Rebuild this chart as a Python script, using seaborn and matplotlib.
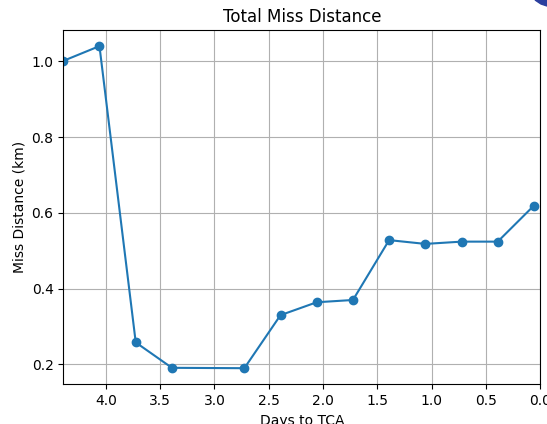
import matplotlib
matplotlib.use("Agg")
import matplotlib.pyplot as plt
import seaborn as sns
import pandas as pd
from matplotlib.patches import Polygon

days_to_tca = [4.392, 4.059, 3.725, 3.392, 2.725, 2.392, 2.059, 1.725, 1.392, 1.059, 0.725, 0.392, 0.059]
miss_distance_km = [1.001, 1.040, 0.258, 0.191, 0.190, 0.330, 0.364, 0.370, 0.528, 0.518, 0.524, 0.524, 0.619]

df = pd.DataFrame({"days": days_to_tca, "miss": miss_distance_km})

fig = plt.figure(figsize=(5.47, 4.24), dpi=100)
ax = fig.add_axes([63.3 / 547, 1 - 384.3 / 424, (540.3 - 63.3) / 547, (384.3 - 30) / 424])

sns.lineplot(data=df, x="days", y="miss", ax=ax, marker="o", color="#1f77b4",
             markersize=6, markeredgecolor="#1f77b4", markeredgewidth=1, linewidth=1.5,
             sort=False, estimator=None)

ax.set_xlim(max(days_to_tca), 0)
ax.grid(True, color="#b0b0b0", linewidth=0.8)
ax.set_axisbelow(True)
ax.set_title("Total Miss Distance", fontsize=12)
ax.set_xlabel("Days to TCA", fontsize=10)
ax.set_ylabel("Miss Distance (km)", fontsize=10)
ax.tick_params(labelsize=10)

# small blue screenshot artifact in top-right corner
corner = Polygon([[535 / 547, 1.0], [547 / 547, 1.0], [547 / 547, 1 - 6 / 424], [541 / 547, 1 - 4 / 424]],
                 closed=True, transform=fig.transFigure, color="#2b3f9e", clip_on=False)
fig.patches.append(corner)

fig.savefig("out.png", dpi=100)
